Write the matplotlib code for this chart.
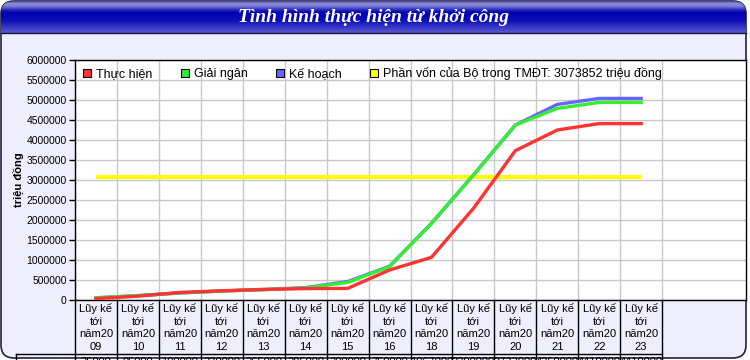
import numpy as np
import matplotlib
matplotlib.use("Agg")
import matplotlib.pyplot as plt
from matplotlib.patches import FancyBboxPatch
from matplotlib.lines import Line2D
from matplotlib.transforms import blended_transform_factory

plt.rcParams['font.family'] = ['Liberation Sans', 'DejaVu Sans']

# data (triệu đồng), cumulative to each year
years = ["09", "10", "11", "12", "13", "14", "15", "16", "18", "19", "20", "21", "22", "23"]
thuc_hien = [35000, 95000, 190000, 230000, 265000, 285000, 290000, 750000,
             1067000, 2290000, 3733000, 4250000, 4410000, 4410000]
giai_ngan = [55000, 110000, 175000, 225000, 260000, 300000, 440000, 835000,
             1917000, 3125000, 4375000, 4790000, 4940000, 4940000]
ke_hoach = [55000, 110000, 175000, 225000, 260000, 310000, 460000, 845000,
            1917000, 3125000, 4375000, 4890000, 5040000, 5040000]
phan_von = 3073852
series_names = ["Thực hiện", "Giải ngân", "Kế hoạch",
                "Phần vốn của Bộ trong TMĐT: 3073852 triệu đồng"]
colors = ["#ff3333", "#33ee33", "#6666ff", "#ffff00"]

W, H = 750, 360
fig = plt.figure(figsize=(7.5, 3.6), dpi=100, facecolor="white")

# background frame + title bar
bg = fig.add_axes([0, 0, 1, 1])
bg.set_xlim(0, W)
bg.set_ylim(H, 0)
bg.axis("off")
frame = FancyBboxPatch((1, 1), 745, 357, boxstyle="round,pad=0,rounding_size=13",
                       facecolor="#eeeefc", edgecolor="#222244", linewidth=1.2, zorder=1)
bg.add_patch(frame)
stops_y = [0, 2, 5, 9, 12, 20, 33]
stops_c = np.array([[0.25, 0.25, 0.55], [0.55, 0.55, 0.85], [0.50, 0.50, 0.85],
                    [0.15, 0.15, 0.75], [0.0, 0.0, 0.68], [0.05, 0.05, 0.72],
                    [0.35, 0.35, 0.82]])
yy = np.linspace(0, 33, 66)
grad = np.stack([np.interp(yy, stops_y, stops_c[:, k]) for k in range(3)], axis=-1)
grad = np.repeat(grad[:, None, :], 4, axis=1)
im = bg.imshow(grad, extent=[1, 746, 33, 1], aspect="auto", interpolation="bilinear",
               zorder=2)
im.set_clip_path(frame)
bg.set_xlim(0, W)
bg.set_ylim(H, 0)
bg.plot([1, 746], [33, 33], color="#111133", lw=1, zorder=3)
bg.text(373, 17, "Tình hình thực hiện từ khởi công", color="white", fontsize=14,
        family="Liberation Serif", style="italic", weight="bold",
        ha="center", va="center", zorder=4)

# plot area
ax = fig.add_axes([75 / W, 1 - 300 / H, 671 / W, 240 / H])
ax.set_facecolor("white")
x = np.arange(len(years))
ax.plot(x, [phan_von] * len(years), color=colors[3], lw=3, solid_capstyle="butt", zorder=3)
ax.plot(x, ke_hoach, color=colors[2], lw=2.4, zorder=4)
ax.plot(x, giai_ngan, color=colors[1], lw=2.4, zorder=5)
ax.plot(x, thuc_hien, color=colors[0], lw=2.4, zorder=6)

ax.set_xlim(-0.5, 15.5)
ax.set_ylim(0, 6000000)
ax.set_yticks(np.arange(0, 6000001, 500000))
ax.set_yticklabels([str(v) for v in range(0, 6000001, 500000)], fontsize=7.5)
ax.set_xticks(np.arange(-0.5, len(years), 1))
ax.set_xticklabels([])
ax.tick_params(axis="x", length=0)
ax.tick_params(axis="y", length=4, width=1, pad=2)
ax.grid(True, color="#c8c8c8", lw=1)
ax.set_axisbelow(True)
for s in ax.spines.values():
    s.set_color("black")
    s.set_linewidth(1)
ax.set_ylabel("triệu đồng", fontsize=8, weight="bold")
ax.yaxis.set_label_coords(-51 / 671, 0.5)

handles = [Line2D([], [], marker="s", linestyle="none", markersize=6,
                  markerfacecolor=c, markeredgecolor="black", markeredgewidth=0.8)
           for c in colors]
ax.legend(handles, series_names, loc="center left", ncol=4, frameon=False,
          fontsize=9, bbox_to_anchor=(8 / 671, 1 - 14 / 240), borderpad=0,
          borderaxespad=0, handlelength=0.7, handletextpad=0.35, columnspacing=2.25)

# table of categories below the axis
tr = blended_transform_factory(ax.transData, ax.transAxes)
px = 1 / 240.0
edges = np.arange(-0.5, len(years), 1)
for e in edges:
    ax.plot([e, e], [0, -60 * px], transform=tr, color="black", lw=1, clip_on=False)
ax.plot([-0.5 - 59 / 42.0, edges[-1]], [-54 * px, -54 * px], transform=tr,
        color="black", lw=1, clip_on=False)
ax.plot([-0.5 - 59 / 42.0] * 2, [-54 * px, -60 * px], transform=tr,
        color="black", lw=1, clip_on=False)
line_y = [8.3, 21.7, 34.3, 47.3]
for i, yr in enumerate(years):
    for ly, txt in zip(line_y, ["Lũy kế", "tới", "năm20", yr]):
        ax.text(i, -ly * px, txt, transform=tr, ha="center", va="center",
                fontsize=8, clip_on=False)
    # second table row, only its top edge shows in the original
    ax.text(i, -57 * px, str(thuc_hien[i]), transform=tr, ha="center", va="top",
            fontsize=8, clip_on=False)

fig.savefig("out.png", dpi=100, facecolor="white")
